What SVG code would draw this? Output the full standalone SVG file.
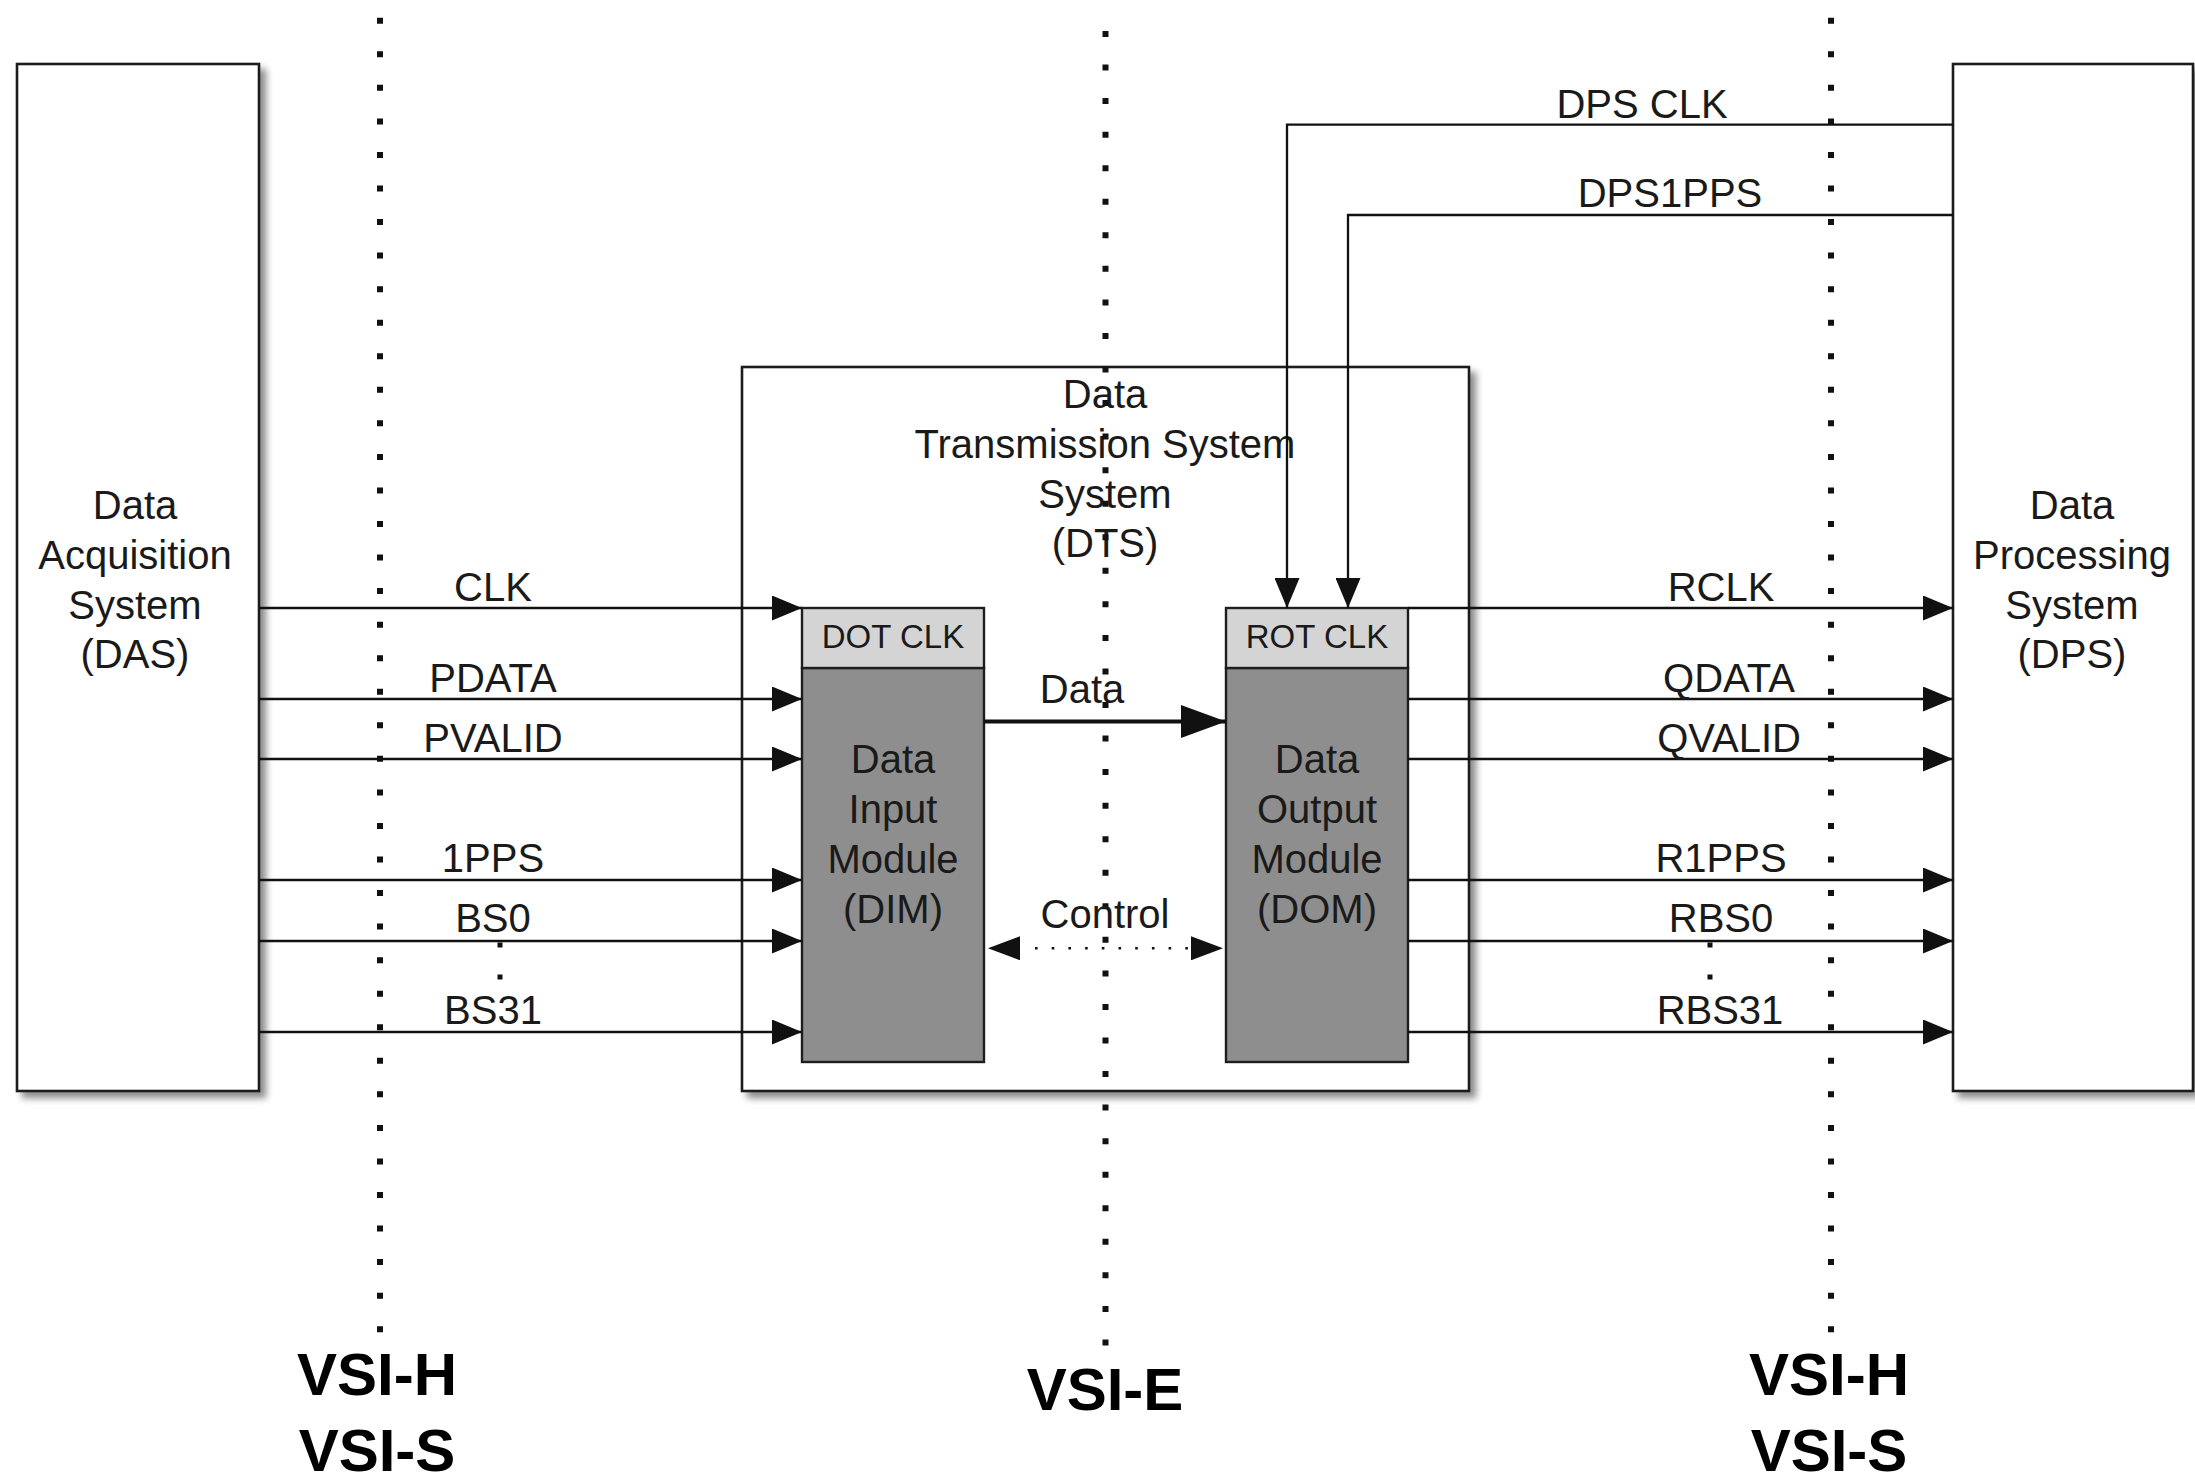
<svg xmlns="http://www.w3.org/2000/svg" width="2195" height="1477" viewBox="0 0 2195 1477">
  <style>
    .box { fill: #ffffff; stroke: #1e1e1e; stroke-width: 2.6; }
    .hdr { fill: #d4d4d4; stroke: #1e1e1e; stroke-width: 2.4; }
    .mod { fill: #8e8e8e; stroke: #1e1e1e; stroke-width: 2.4; }
    .conn { fill: none; stroke: #111111; stroke-width: 2.3; }
    .thick { fill: none; stroke: #111111; stroke-width: 4; }
    .guide { fill: none; stroke: #111111; stroke-width: 6; stroke-dasharray: 6 27.55; }
    .fine { fill: none; stroke: #111111; stroke-width: 2.6; stroke-dasharray: 2.6 14.1; }
    text { font-family: "Liberation Sans", Arial, sans-serif; fill: #1a1a1a; text-anchor: middle; }
    .t40 { font-size: 40px; }
    .t33 { font-size: 33px; }
    .vsi { font-size: 60px; font-weight: bold; fill: #000000; }
  </style>
  <defs>
    <filter id="shadow" x="-5%" y="-5%" width="115%" height="115%">
      <feGaussianBlur in="SourceAlpha" stdDeviation="3.5"/>
      <feOffset dx="6" dy="6" result="b"/>
      <feComponentTransfer><feFuncA type="linear" slope="0.45"/></feComponentTransfer>
      <feMerge><feMergeNode/><feMergeNode in="SourceGraphic"/></feMerge>
    </filter>
    <marker id="arr" markerUnits="userSpaceOnUse" markerWidth="30" markerHeight="25" refX="30" refY="12.5" orient="auto">
      <path d="M0,0 L30,12.5 L0,25 Z" fill="#111111"/>
    </marker>
    <marker id="arrBase" markerUnits="userSpaceOnUse" markerWidth="32" markerHeight="24" refX="0" refY="12" orient="auto-start-reverse">
      <path d="M0,0 L32,12 L0,24 Z" fill="#111111"/>
    </marker>
    <marker id="arrBig" markerUnits="userSpaceOnUse" markerWidth="45" markerHeight="33" refX="45" refY="16.5" orient="auto">
      <path d="M0,0 L45,16.5 L0,33 Z" fill="#111111"/>
    </marker>
  </defs>

  <g id="DTS">
    <rect class="box" x="742" y="367" width="727" height="724" filter="url(#shadow)"/>
    <text class="t40" x="1105" y="408">Data</text>
    <text class="t40" x="1105" y="458">Transmission System</text>
    <text class="t40" x="1105" y="508">System</text>
    <text class="t40" x="1105" y="557">(DTS)</text>
  </g>

  <g id="DAS">
    <rect class="box" x="17" y="64" width="242" height="1027" filter="url(#shadow)"/>
    <text class="t40" x="135" y="519">Data</text>
    <text class="t40" x="135" y="569">Acquisition</text>
    <text class="t40" x="135" y="619">System</text>
    <text class="t40" x="135" y="668">(DAS)</text>
  </g>

  <g id="DPS">
    <rect class="box" x="1953" y="64" width="240" height="1027" filter="url(#shadow)"/>
    <text class="t40" x="2072" y="519">Data</text>
    <text class="t40" x="2072" y="569">Processing</text>
    <text class="t40" x="2072" y="619">System</text>
    <text class="t40" x="2072" y="668">(DPS)</text>
  </g>

  <g id="DIM">
    <rect class="mod" x="802" y="668" width="182" height="394"/>
    <rect class="hdr" x="802" y="608" width="182" height="60"/>
    <text class="t33" x="893" y="648">DOT CLK</text>
    <text class="t40" x="893" y="773">Data</text>
    <text class="t40" x="893" y="823">Input</text>
    <text class="t40" x="893" y="873">Module</text>
    <text class="t40" x="893" y="923">(DIM)</text>
  </g>

  <g id="DOM">
    <rect class="mod" x="1226" y="668" width="182" height="394"/>
    <rect class="hdr" x="1226" y="608" width="182" height="60"/>
    <text class="t33" x="1317" y="648">ROT CLK</text>
    <text class="t40" x="1317" y="773">Data</text>
    <text class="t40" x="1317" y="823">Output</text>
    <text class="t40" x="1317" y="873">Module</text>
    <text class="t40" x="1317" y="923">(DOM)</text>
  </g>

  <g id="interfaces">
    <path class="guide" d="M380,17.75 V1333"/>
    <path class="guide" d="M1105.5,31 V1347"/>
    <path class="guide" d="M1831,17.75 V1333"/>
    <text class="vsi" x="377" y="1395">VSI-H</text>
    <text class="vsi" x="377" y="1471">VSI-S</text>
    <text class="vsi" x="1105" y="1410">VSI-E</text>
    <text class="vsi" x="1829" y="1395">VSI-H</text>
    <text class="vsi" x="1829" y="1471">VSI-S</text>
  </g>

  <g id="connectors">
    <path class="conn" d="M259,608 H802" marker-end="url(#arr)"/>
    <path class="conn" d="M259,699 H802" marker-end="url(#arr)"/>
    <path class="conn" d="M259,759 H802" marker-end="url(#arr)"/>
    <path class="conn" d="M259,880 H802" marker-end="url(#arr)"/>
    <path class="conn" d="M259,941 H802" marker-end="url(#arr)"/>
    <path class="conn" d="M259,1032 H802" marker-end="url(#arr)"/>

    <path class="conn" d="M1408,608 H1953" marker-end="url(#arr)"/>
    <path class="conn" d="M1408,699 H1953" marker-end="url(#arr)"/>
    <path class="conn" d="M1408,759 H1953" marker-end="url(#arr)"/>
    <path class="conn" d="M1408,880 H1953" marker-end="url(#arr)"/>
    <path class="conn" d="M1408,941 H1953" marker-end="url(#arr)"/>
    <path class="conn" d="M1408,1032 H1953" marker-end="url(#arr)"/>

    <path class="conn" d="M1953,124.6 H1287 V608" marker-end="url(#arr)"/>
    <path class="conn" d="M1953,215 H1348 V608" marker-end="url(#arr)"/>

    <path class="thick" d="M984,721.5 H1226" marker-end="url(#arrBig)"/>

    <path class="fine" d="M1035,948.3 H1191"/>
    <path d="M1020,948.3 H1191" fill="none" stroke="none" marker-start="url(#arrBase)" marker-end="url(#arrBase)"/>

    <rect x="497.5" y="942.5" width="5" height="5" fill="#111111"/>
    <rect x="497.5" y="974.5" width="5" height="5" fill="#111111"/>
    <rect x="1707.5" y="942.5" width="5" height="5" fill="#111111"/>
    <rect x="1707.5" y="974.5" width="5" height="5" fill="#111111"/>
  </g>

  <g id="labels">
    <text class="t40" x="493" y="601">CLK</text>
    <text class="t40" x="493" y="692">PDATA</text>
    <text class="t40" x="493" y="752">PVALID</text>
    <text class="t40" x="493" y="872">1PPS</text>
    <text class="t40" x="493" y="932">BS0</text>
    <text class="t40" x="493" y="1024">BS31</text>
    <text class="t40" x="1721" y="601">RCLK</text>
    <text class="t40" x="1729" y="692">QDATA</text>
    <text class="t40" x="1729" y="752">QVALID</text>
    <text class="t40" x="1721" y="872">R1PPS</text>
    <text class="t40" x="1721" y="932">RBS0</text>
    <text class="t40" x="1720" y="1024">RBS31</text>
    <text class="t40" x="1642" y="117.5">DPS CLK</text>
    <text class="t40" x="1670" y="207">DPS1PPS</text>
    <text class="t40" x="1082" y="703">Data</text>
    <text class="t40" x="1105" y="928">Control</text>
  </g>
</svg>
